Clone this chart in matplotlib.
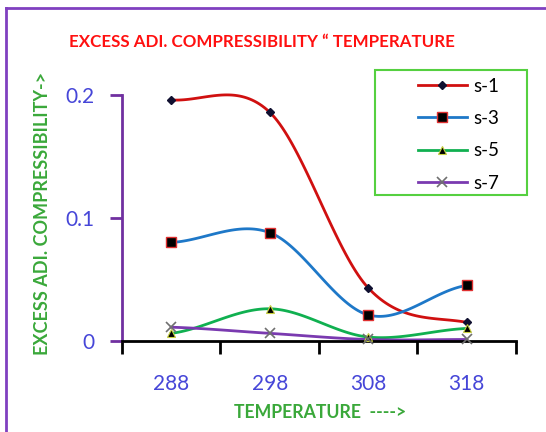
import matplotlib
matplotlib.use("Agg")
import matplotlib.pyplot as plt
from matplotlib.lines import Line2D
from matplotlib.patches import Rectangle
import numpy as np

plt.rcParams.update({"font.family": ["Lato", "DejaVu Sans"]})

temps = ["288", "298", "308", "318"]
s1 = [0.196, 0.186, 0.043, 0.015]
s3 = [0.080, 0.088, 0.021, 0.045]
s5 = [0.006, 0.026, 0.003, 0.010]
s7 = [0.011, 0.006, 0.001, 0.001]

PURPLE, GREEN_TXT, BLUE_TXT = "#7030A0", "#3AA83A", "#4646D8"


def smooth(y, n=40):
    # catmull-rom style smoothing, like a spreadsheet "smoothed line"
    y = np.asarray(y, float)
    p = np.concatenate([[y[0]], y, [y[-1]]])
    xs, ys = [], []
    for i in range(len(y) - 1):
        t = np.linspace(0, 1, n)
        m0 = (p[i + 2] - p[i]) / 2
        m1 = (p[i + 3] - p[i + 1]) / 2
        h00 = 2 * t**3 - 3 * t**2 + 1
        h10 = t**3 - 2 * t**2 + t
        h01 = -2 * t**3 + 3 * t**2
        h11 = t**3 - t**2
        xs.append(i + t)
        ys.append(h00 * y[i] + h10 * m0 + h01 * y[i + 1] + h11 * m1)
    return np.concatenate(xs), np.concatenate(ys)


fig = plt.figure(figsize=(5.46, 4.32), dpi=100)
ax = fig.add_axes([0.2234, 0.2113, 0.7216, 0.5687])

series = [
    ("s-1", s1, "#D01010", dict(marker="D", ms=4, mfc="#101030", mec="#101030")),
    ("s-3", s3, "#1E78C8", dict(marker="s", ms=6.5, mfc="black", mec="#E03030", mew=1)),
    ("s-5", s5, "#10B050", dict(marker="^", ms=6, mfc="black", mec="#C8D040", mew=0.8)),
    ("s-7", s7, "#7A3AB0", dict(marker="x", ms=7, mec="#707070", mew=1.2)),
]
x = np.arange(len(temps))
handles = []
for name, vals, col, mk in series:
    sx, sy = smooth(vals)
    ax.plot(sx, sy, color=col, lw=2, clip_on=False, zorder=2)
    ax.plot(x, vals, ls="none", clip_on=False, zorder=3, **mk)
    handles.append(Line2D([], [], color=col, lw=2, **mk))

ax.set_xlim(-0.5, 3.5)
ax.set_ylim(0, 0.2)
ax.set_yticks([0, 0.1, 0.2])
ax.set_yticklabels(["0", "0.1", "0.2"])
ax.set_xticks(x)
ax.set_xticklabels(temps)
ax.set_xticks(np.arange(-0.5, 4, 1), minor=True)
ax.tick_params(axis="x", which="major", length=0, pad=24, labelsize=15,
               labelcolor=BLUE_TXT)
ax.tick_params(axis="x", which="minor", length=9, width=2, color="black",
               direction="out")
ax.tick_params(axis="y", length=9, width=2, color=PURPLE, pad=11,
               labelsize=15, labelcolor=BLUE_TXT)
for s in ("top", "right"):
    ax.spines[s].set_visible(False)
ax.spines["left"].set_color(PURPLE)
ax.spines["left"].set_linewidth(2)
ax.spines["bottom"].set_color("black")
ax.spines["bottom"].set_linewidth(2)

fig.text(0.479, 0.902, "EXCESS ADI. COMPRESSIBILITY \u201c TEMPERATURE",
         color="#FF1010", fontsize=12.2, fontweight="bold", ha="center",
         va="center")
fig.text(0.077, 0.505, "EXCESS ADI. COMPRESSIBILITY->", color=GREEN_TXT,
         fontsize=13, fontweight="bold", rotation=90, ha="center", va="center")
fig.text(0.586, 0.046, "TEMPERATURE  ---->", color=GREEN_TXT, fontsize=12.7,
         fontweight="bold", ha="center", va="center")

# legend entries, box drawn separately (it is wider than its contents)
leg = fig.legend(handles, [s[0] for s in series], loc="upper left",
                 bbox_to_anchor=(0.748, 0.842), fontsize=13.5,
                 handlelength=2.6, labelspacing=0.82, borderpad=0,
                 frameon=False, handletextpad=0.35)
fig.add_artist(Rectangle((375 / 546, 1 - 195 / 432), 152 / 546, 125 / 432,
                         transform=fig.transFigure, fill=False,
                         edgecolor="#55D040", lw=1.5))

# chart frame (only top and left edges show)
fig.add_artist(Line2D([0.011, 1.0], [0.981, 0.981], color="#8040C0", lw=2))
fig.add_artist(Line2D([0.011, 0.011], [0.0, 0.981], color="#8040C0", lw=2))

fig.savefig("out.png", dpi=100)
